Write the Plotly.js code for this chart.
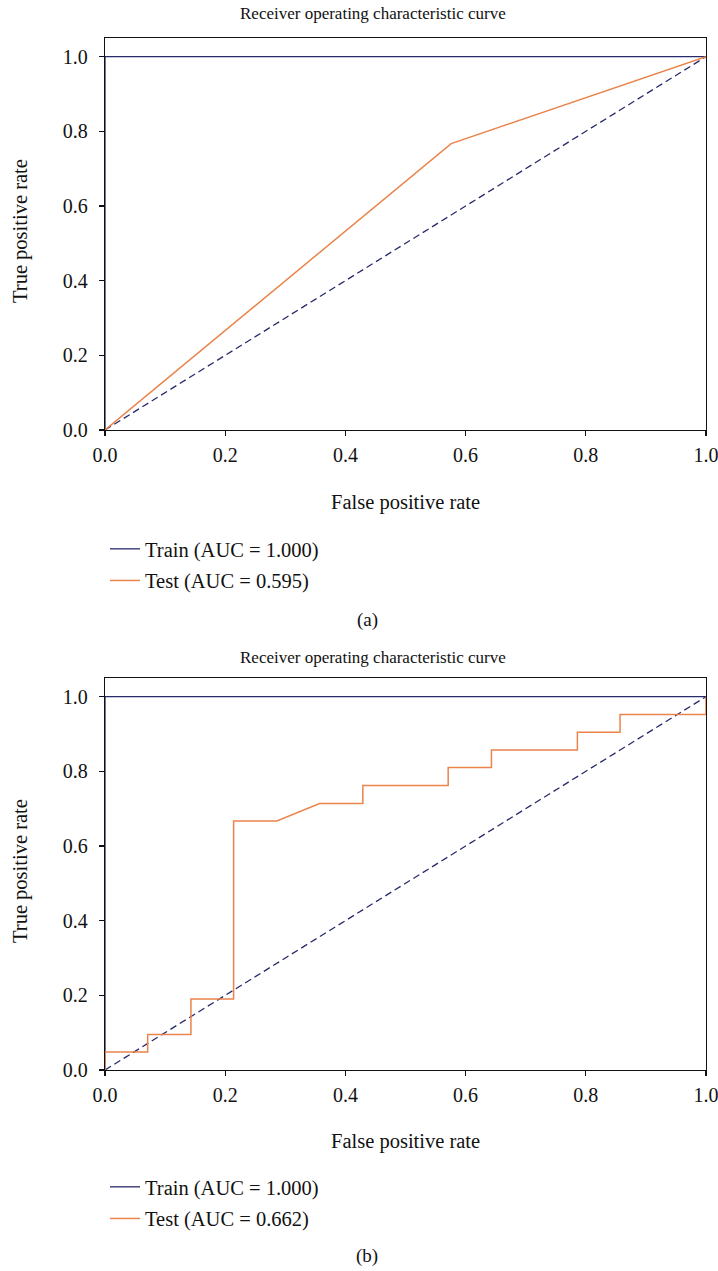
<!DOCTYPE html>
<html>
<head>
<meta charset="utf-8">
<script src="https://cdn.plot.ly/plotly-3.0.1.min.js"></script>
<style>html,body{margin:0;padding:0;background:#fff;}#chart{width:718px;height:1271px;}</style>
</head>
<body>
<div id="chart"></div>
<script>
// ---- data ----
const chartTitle = "Receiver operating characteristic curve";
const xTitle = "False positive rate";
const yTitle = "True positive rate";
const captions = ["(a)", "(b)"];

const trainFprA = [0, 0, 1];
const trainTprA = [0, 1, 1];
const testFprA = [0, 0.576, 1];
const testTprA = [0, 0.767, 1];
const trainNameA = "Train (AUC = 1.000)";
const testNameA = "Test (AUC = 0.595)";

const trainFprB = [0, 0, 1];
const trainTprB = [0, 1, 1];
const testFprB = [0, 0, 0.071, 0.071, 0.143, 0.143, 0.214, 0.214, 0.286, 0.357, 0.429, 0.429, 0.571, 0.571, 0.643, 0.643, 0.786, 0.786, 0.857, 0.857, 1.0, 1.0];
const testTprB = [0, 0.048, 0.048, 0.095, 0.095, 0.190, 0.190, 0.667, 0.667, 0.714, 0.714, 0.762, 0.762, 0.810, 0.810, 0.857, 0.857, 0.905, 0.905, 0.952, 0.952, 1.0];
const trainNameB = "Train (AUC = 1.000)";
const testNameB = "Test (AUC = 0.662)";

const chanceX = [0, 1];
const chanceY = [0, 1];
const tickVals = [0, 0.2, 0.4, 0.6, 0.8, 1.0];
const tickText = ["0.0", "0.2", "0.4", "0.6", "0.8", "1.0"];

// ---- styles ----
const NAVY = "#272a6b";
const ORANGE = "#ea844b";
const FONT = "Liberation Serif, Times New Roman, serif";
const W = 718, H = 1271;
const px = v => v / W;
const py = v => 1 - v / H;

const traces = [
  {x: chanceX, y: chanceY, xaxis: "x", yaxis: "y", mode: "lines", line: {color: NAVY, width: 1.3, dash: "7px,4px"}, showlegend: false, hoverinfo: "skip"},
  {x: trainFprA, y: trainTprA, xaxis: "x", yaxis: "y", mode: "lines", name: trainNameA, line: {color: NAVY, width: 1.3}, legend: "legend", legendgroup: "a1"},
  {x: testFprA, y: testTprA, xaxis: "x", yaxis: "y", mode: "lines", name: testNameA, line: {color: ORANGE, width: 1.5}, legend: "legend", legendgroup: "a2"},
  {x: chanceX, y: chanceY, xaxis: "x2", yaxis: "y2", mode: "lines", line: {color: NAVY, width: 1.3, dash: "7px,4px"}, showlegend: false, hoverinfo: "skip"},
  {x: trainFprB, y: trainTprB, xaxis: "x2", yaxis: "y2", mode: "lines", name: trainNameB, line: {color: NAVY, width: 1.3}, legend: "legend2", legendgroup: "b1"},
  {x: testFprB, y: testTprB, xaxis: "x2", yaxis: "y2", mode: "lines", name: testNameB, line: {color: ORANGE, width: 1.5}, legend: "legend2", legendgroup: "b2"}
];
traces.forEach(t => t.cliponaxis = false);

function xaxis(anchor) {
  return {
    domain: [px(105), px(706)], anchor: anchor, range: [0, 1], tickvals: tickVals, ticktext: tickText,
    showline: true, mirror: true, linecolor: "#111", linewidth: 1.3, ticks: "outside", ticklen: 5, tickwidth: 1.3, tickcolor: "#111",
    ticklabelstandoff: 2, ticklabeloverflow: "allow",
    showgrid: false, zeroline: false, tickfont: {family: FONT, size: 20, color: "#111"}, fixedrange: true
  };
}
function yaxis(domain, anchor) {
  return {
    domain: domain, anchor: anchor, range: [0, 1.05], tickvals: tickVals, ticktext: tickText,
    showline: true, mirror: true, linecolor: "#111", linewidth: 1.3, ticks: "outside", ticklen: 5, tickwidth: 1.3, tickcolor: "#111",
    ticklabelstandoff: 7, ticklabeloverflow: "allow",
    showgrid: false, zeroline: false, tickfont: {family: FONT, size: 20, color: "#111"}, fixedrange: true
  };
}

const legendCommon = {
  xanchor: "left", yanchor: "top", bgcolor: "rgba(0,0,0,0)", borderwidth: 0,
  font: {family: FONT, size: 20.5, color: "#111"}, traceorder: "grouped", tracegroupgap: 2, itemwidth: 30
};

const annText = (text, x, y, extra) => Object.assign({
  text: text, xref: "paper", yref: "paper", x: px(x), y: py(y), xanchor: "center", yanchor: "middle",
  showarrow: false, font: {family: FONT, size: 17, color: "#111"}
}, extra || {});
const big = {font: {family: FONT, size: 20.5, color: "#111"}};

const layout = {
  width: W, height: H,
  margin: {l: 0, r: 0, t: 0, b: 0},
  paper_bgcolor: "#fff", plot_bgcolor: "#fff",
  showlegend: true,
  xaxis: xaxis("y"),
  yaxis: yaxis([py(430), py(38)], "x"),
  xaxis2: xaxis("y2"),
  yaxis2: yaxis([py(1070), py(678)], "x2"),
  legend: Object.assign({}, legendCommon, {x: px(105), y: py(529)}),
  legend2: Object.assign({}, legendCommon, {x: px(105), y: py(1167)}),
  annotations: [
    annText(chartTitle, 373, 13),
    annText(xTitle, 405, 502, big),
    annText(yTitle, 20, 231, Object.assign({textangle: -90}, big)),
    annText(captions[0], 367, 620, {font: {family: FONT, size: 19, color: "#111"}}),
    annText(chartTitle, 373, 657),
    annText(xTitle, 405, 1141, big),
    annText(yTitle, 20, 871, Object.assign({textangle: -90}, big)),
    annText(captions[1], 367, 1256, {font: {family: FONT, size: 19, color: "#111"}})
  ]
};

Plotly.newPlot("chart", traces, layout, {staticPlot: true, displayModeBar: false});
</script>
</body>
</html>
